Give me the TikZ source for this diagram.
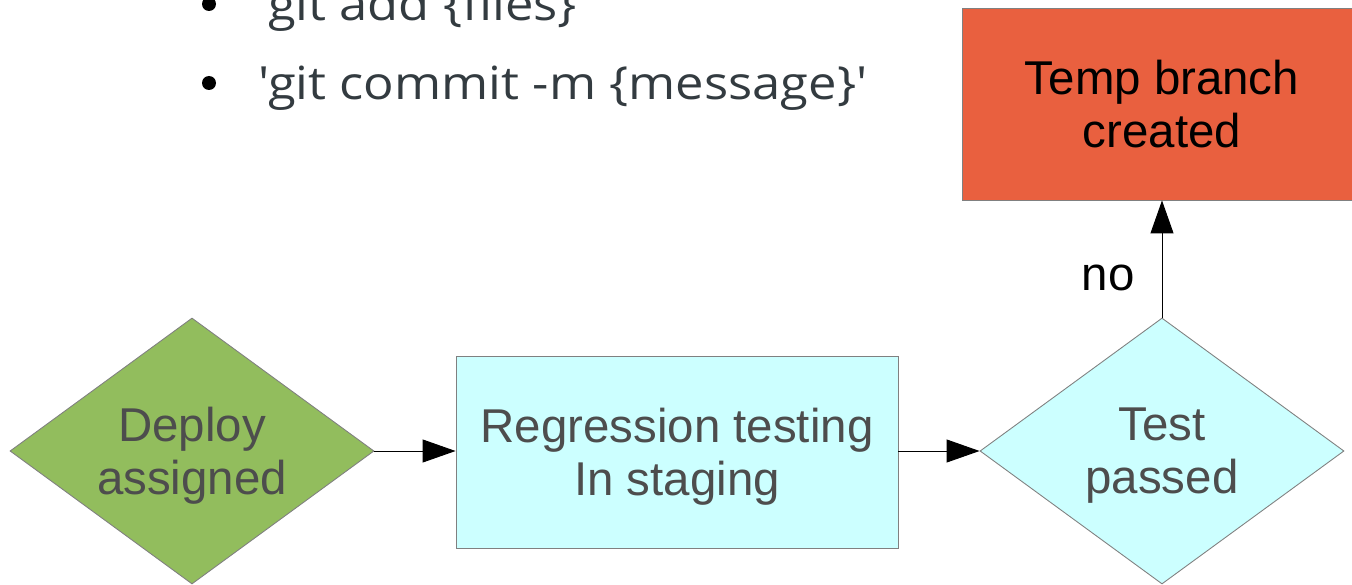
\documentclass[tikz,border=0pt]{standalone}
\usepackage{fontspec}
\setmainfont{Liberation Sans}
\newfontfamily\slidefont[Ligatures=TeXOff, FakeStretch=1.11]{Open Sans}
\usetikzlibrary{shapes.geometric,arrows.meta}

\definecolor{deploygreen}{HTML}{92BD5D}
\definecolor{stagecyan}{HTML}{CCFFFF}
\definecolor{tempred}{HTML}{E9603F}
\definecolor{boxgray}{HTML}{808080}
\definecolor{labelgray}{HTML}{4D4D4D}
\definecolor{slidetext}{HTML}{333B40}

\tikzset{
  flowtext/.style={font=\fontsize{27}{30.2}\selectfont, align=center, text=labelgray,
                   inner sep=0pt, text depth=0pt},
  decision/.style={flowtext, diamond, aspect=1.37, draw=boxgray, line width=0.5pt,
                   minimum width=7.28cm, minimum height=5.32cm},
  process/.style={flowtext, rectangle, draw=boxgray, line width=0.5pt},
  flow/.style={draw=black, line width=0.55pt, -{Triangle[length=0.66cm,width=0.46cm]}},
  slideline/.style={font=\slidefont\fontsize{26}{30}\selectfont, text=slidetext,
                    inner sep=0pt, anchor=base west},
  slidedot/.style={circle, fill=black, inner sep=0pt, minimum size=0.28cm},
}

\begin{document}
\begin{tikzpicture}

\useasboundingbox (0,0) rectangle (27.04,11.68);
\clip (0,0) rectangle (27.04,11.68);

% bullets of the slide behind the chart
\node[slidedot] (dotadd) at (4.18,11.6) {};
\node[slideline] (add) at (5.16,11.26) {'git add \{files\}'};
\node[slidedot] (dotcommit) at (4.18,10.02) {};
\node[slideline] (commit) at (5.16,9.68) {'git commit -m \{message\}'};

% chart
\node[decision, fill=deploygreen] (deploy) at (3.84,2.66) {Deploy\\assigned};
\node[process, fill=stagecyan, minimum width=8.84cm, minimum height=3.84cm]
     (staging) at (13.54,2.64) {Regression testing\\In staging};
\node[decision, fill=stagecyan] (test) at (23.24,2.66) {Test\\passed};
\node[process, fill=tempred, text=black, minimum width=8cm, minimum height=3.84cm]
     (temp) at (23.24,9.6) {Temp branch\\created};

\draw[flow] (deploy.east) -- (deploy.east -| staging.west);
\draw[flow] (staging.east |- test.west) -- (test.west);
\draw[flow] (test.north) -- node[pos=0.34, left=0.54cm, flowtext, text=black] (no) {no} (temp.south);

\end{tikzpicture}
\end{document}
